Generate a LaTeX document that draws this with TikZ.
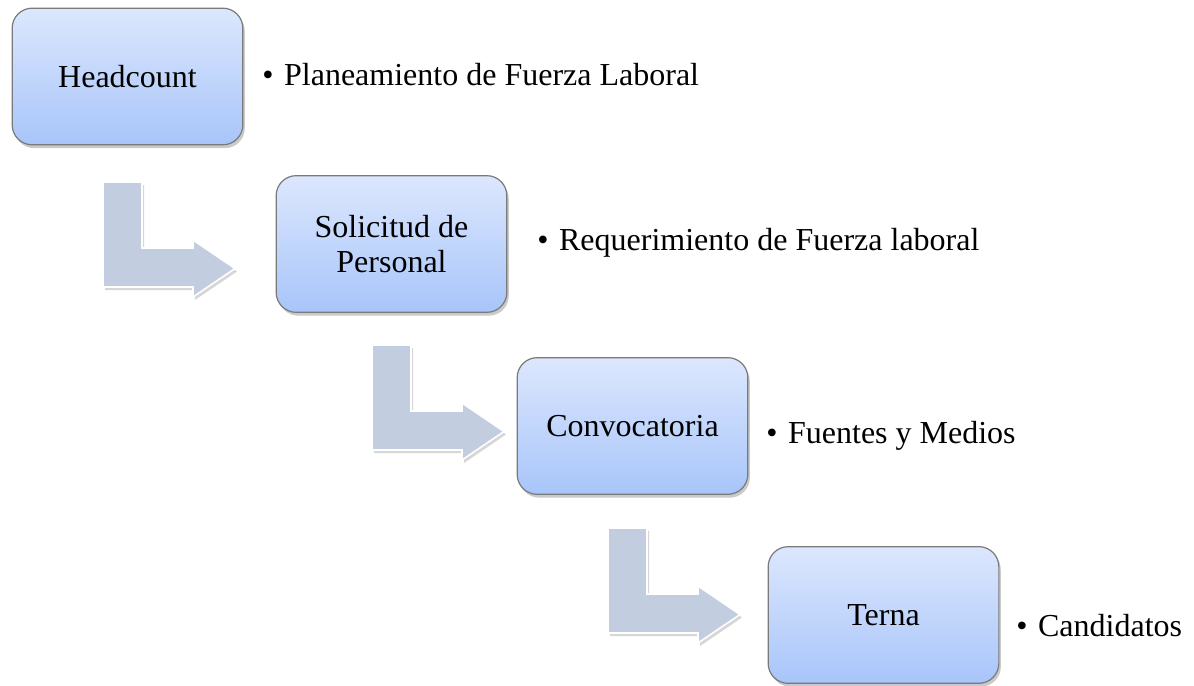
\documentclass[tikz,border=0pt]{standalone}
\usepackage{fontspec}
\setmainfont{Liberation Serif}
\usetikzlibrary{shadows}
\definecolor{boxtop}{HTML}{DCE7FD}
\definecolor{boxbot}{HTML}{A8C5FA}
\definecolor{boxline}{HTML}{7A7A7A}
\definecolor{arrowfill}{HTML}{C3CDE0}
\tikzset{
  stepbox/.style={draw=boxline, line width=0.9pt, rounded corners=15pt,
    top color=boxtop, bottom color=boxbot,
    minimum width=173pt, minimum height=102.5pt, inner sep=0pt,
    align=center, font=\fontsize{24}{26}\selectfont,
    drop shadow={shadow xshift=1.5pt, shadow yshift=-2.5pt, opacity=0.35, fill=black!60}},
  bullettext/.style={anchor=west, inner sep=0pt, font=\fontsize{24}{29}\selectfont},
  pics/bentarrow/.style={code={
    \fill[black!40, opacity=0.4] (2,3) -- (41,3) -- (41,69) -- (92,69) -- (92,61) -- (134,89.5) -- (92,118) -- (92,108) -- (2,108) -- cycle;
    \draw[draw=white, line width=1.2pt, fill=arrowfill]
      (0,0) -- (39,0) -- (39,66) -- (90,66) -- (90,58) -- (132,86.5) -- (90,115) -- (90,105) -- (0,105) -- cycle;
  }}
}
\begin{document}
\begin{tikzpicture}[x=0.75pt, y=-0.75pt]
\useasboundingbox (0,0) rectangle (1194,685);
% block arrows
\pic at (103,182) {bentarrow};
\pic at (372,345) {bentarrow};
\pic at (608,528) {bentarrow};
% boxes
\node[stepbox] (b1) at (127.5,76.5) {Headcount};
\node[stepbox] (b2) at (391.5,244) {Solicitud de\\Personal};
\node[stepbox] (b3) at (632.5,426) {Convocatoria};
\node[stepbox] (b4) at (883.5,615) {Terna};
% bullet texts
\node[bullettext] (t1) at (262,75) {•\hspace{8pt}Planeamiento de Fuerza Laboral};
\node[bullettext] (t2) at (537,243) {•\hspace{8pt}Requerimiento de Fuerza laboral};
\node[bullettext] (t3) at (766,436) {•\hspace{8pt}Fuentes y Medios};
\node[bullettext] (t4) at (1016,626) {•\hspace{8pt}Candidatos};
\end{tikzpicture}
\end{document}
